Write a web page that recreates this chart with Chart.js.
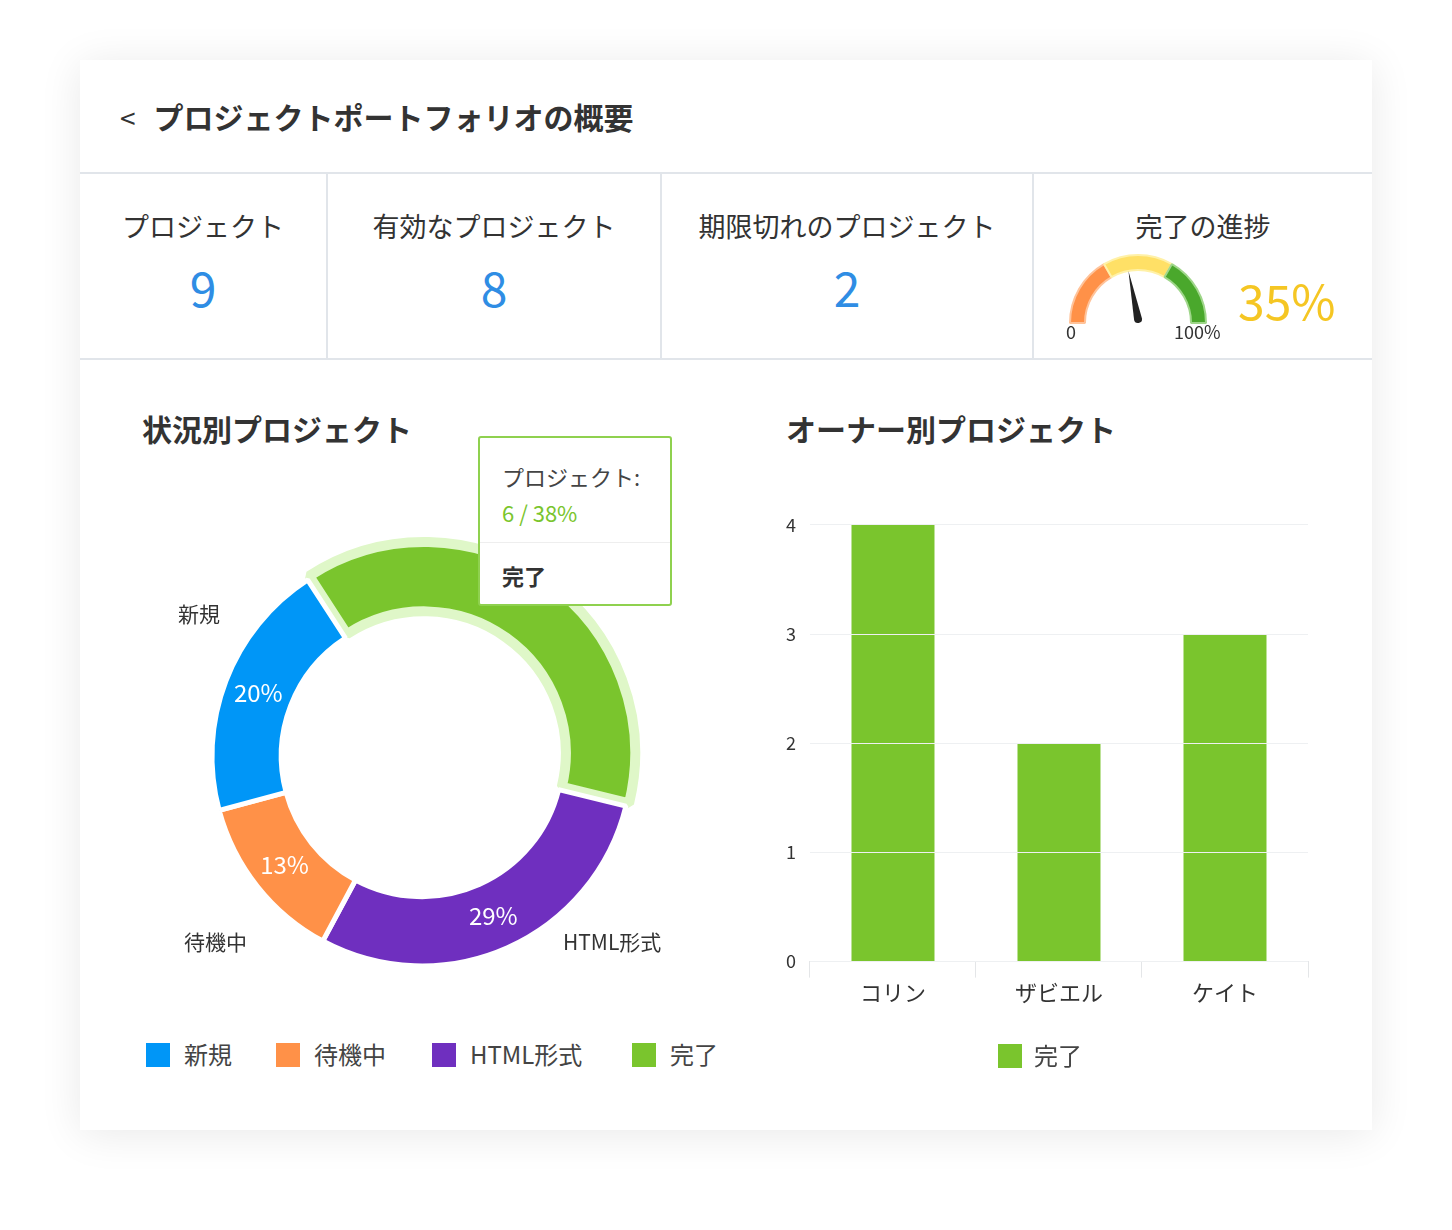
<!DOCTYPE html>
<html><head><meta charset="utf-8">
<script src="https://cdn.jsdelivr.net/npm/chart.js@4/dist/chart.umd.min.js"></script>
<style>
body{margin:0;background:#fff;font-family:"Noto Sans CJK JP","Noto Sans",sans-serif;color:#333}
.card{position:absolute;left:80px;top:60px;width:1292px;height:1070px;background:#fff;box-shadow:0 4px 40px rgba(0,0,0,.09)}
.hdr{height:112px;border-bottom:2px solid #e1e5ea;font-size:30px;font-weight:bold;line-height:112px;padding-left:40px}
.hdr span{font-weight:normal;margin-right:18px;font-size:28px}
.stats{position:absolute;top:114px;left:0;width:1292px;height:184px;border-bottom:2px solid #e1e5ea}
.st{position:absolute;top:0;height:184px;text-align:center;border-right:2px solid #e1e5ea}
.st .l{font-size:27px;margin-top:32px}
.st .n{font-size:48px;color:#2f8de4;margin-top:6px}
.sec{position:absolute;font-size:30px;font-weight:bold}
.tip{position:absolute;left:478px;top:436px;width:190px;height:166px;border:2px solid #8fd14f;background:#fff;border-radius:3px;font-size:22px}
.lab{position:absolute;font-size:21px}
.lg{position:absolute;top:1040px;font-size:24px;color:#444;line-height:28px}
.lg i{display:inline-block;width:24px;height:24px;vertical-align:-3px;margin-right:14px}
</style></head><body>
<div class="card">
 <div class="hdr"><span>&lt;</span>プロジェクトポートフォリオの概要</div>
 <div class="stats">
  <div class="st" style="left:0;width:246px"><div class="l">プロジェクト</div><div class="n">9</div></div>
  <div class="st" style="left:248px;width:332px"><div class="l">有効なプロジェクト</div><div class="n">8</div></div>
  <div class="st" style="left:582px;width:370px"><div class="l">期限切れのプロジェクト</div><div class="n">2</div></div>
  <div class="st" style="left:954px;width:338px;border:none"><div class="l">完了の進捗</div></div>
 </div>
 <div class="sec" style="left:62px;top:346px">状況別プロジェクト</div>
 <div class="sec" style="left:706px;top:346px">オーナー別プロジェクト</div>
</div>
<div style="position:absolute;left:1068px;top:254px;width:140px;height:70px"><canvas id="g"></canvas></div>
<div style="position:absolute;left:1066px;top:318px;font-size:18px">0</div>
<div style="position:absolute;left:1174px;top:318px;font-size:18px">100%</div>
<div style="position:absolute;left:1238px;top:264px;font-size:48px;color:#f5c623">35%</div>
<div style="position:absolute;left:200px;top:534px;width:444px;height:444px"><canvas id="d"></canvas></div>
<div class="lab" style="left:178px;top:598px">新規</div>
<div class="lab" style="left:184px;top:926px">待機中</div>
<div class="lab" style="left:563px;top:926px">HTML形式</div>
<div id="dleg"></div>
<div style="position:absolute;left:760px;top:500px;width:560px;height:578px"><canvas id="b"></canvas></div>
<div class="tip" style="position:absolute">
 <div style="padding:22px 0 0 22px;color:#444">プロジェクト:</div>
 <div style="padding:4px 0 0 22px;color:#7ac52d">6 / 38%</div>
 <div style="border-top:1px solid #eee;margin-top:14px;padding:16px 0 0 22px;font-weight:bold">完了</div>
</div>
<script>
const statusLabels = ["完了", "HTML形式", "待機中", "新規"];
const statusShares = [38, 29, 13, 20];
const statusColors = ["#7ac52d", "#6f2fbf", "#ff9148", "#0096f7"];
const legendX = [146, 276, 432, 632];
const owners = ["コリン", "ザビエル", "ケイト"];
const ownerDone = [4, 2, 3];
const gaugeParts = [1, 1, 1];
const progress = 35;

const FONT = "'Noto Sans CJK JP', 'Noto Sans', sans-serif";
Chart.defaults.font.family = FONT;
Chart.defaults.color = "#333";

// legend in 新規 → 完了 order
const leg = document.getElementById("dleg");
statusLabels.slice().reverse().forEach((l, i) => {
  const c = statusColors[statusLabels.length - 1 - i];
  leg.innerHTML += `<div class="lg" style="left:${legendX[i]}px"><i style="background:${c}"></i>${l}</div>`;
});

const sliceText = {
  id: "sliceText",
  afterDatasetsDraw(chart) {
    const ctx = chart.ctx;
    chart.getDatasetMeta(0).data.forEach((arc, i) => {
      if (i == 0) return;
      const mid = (arc.startAngle + arc.endAngle) / 2;
      const r = (arc.innerRadius + arc.outerRadius) / 2;
      ctx.save();
      ctx.font = "24px " + FONT;
      ctx.textAlign = "center"; ctx.textBaseline = "middle";
      ctx.fillStyle = "#fff";
      ctx.fillText(statusShares[i] + "%", arc.x + Math.cos(mid) * r, arc.y + Math.sin(mid) * r);
      ctx.restore();
    });
  }
};

new Chart(document.getElementById("d"), {
  type: "doughnut",
  data: { labels: statusLabels, datasets: [{
    data: statusShares, backgroundColor: statusColors,
    borderColor: ["#dff7c8", "#fff", "#fff", "#fff"], borderWidth: [10, 5, 5, 5],
    offset: [14, 0, 0, 0]
  }]},
  options: {
    responsive: true, maintainAspectRatio: false, animation: false,
    rotation: -33, cutout: "67%",
    plugins: { tooltip: { enabled: false }, legend: { display: false } }
  },
  plugins: [sliceText]
});

new Chart(document.getElementById("b"), {
  type: "bar",
  data: { labels: owners, datasets: [{ label: "完了", data: ownerDone, backgroundColor: "#7ac52d", categoryPercentage: 0.5, barPercentage: 1 }] },
  options: {
    responsive: true, maintainAspectRatio: false, animation: false,
    layout: { padding: { top: 8, right: 12, left: 12 } },
    scales: {
      y: { min: 0, max: 4, ticks: { stepSize: 1, font: { size: 18 }, padding: 14 }, grid: { color: "#eef0f2", z: 1, drawTicks: false }, border: { display: false } },
      x: { ticks: { font: { size: 22 }, color: "#333", padding: 2 }, grid: { color: "#e4e6e8", offset: true, tickLength: 16, drawOnChartArea: false }, border: { color: "#e4e6e8" } }
    },
    plugins: { tooltip: { enabled: false },
      legend: { position: "bottom", labels: { boxWidth: 24, boxHeight: 24, padding: 36, color: "#444", font: { size: 24 } } } }
  }
});

const needle = {
  id: "needle",
  afterDatasetsDraw(chart) {
    const arc = chart.getDatasetMeta(0).data[0];
    const a = Math.PI + Math.PI * progress / 100 * 1.25;
    const ctx = chart.ctx, L = arc.outerRadius * 0.72;
    ctx.save();
    ctx.translate(arc.x, arc.y - 4); ctx.rotate(a);
    ctx.fillStyle = "#222";
    ctx.beginPath(); ctx.moveTo(0, -4); ctx.lineTo(L, 0); ctx.lineTo(0, 4); ctx.arc(0, 0, 4, Math.PI / 2, Math.PI * 1.5); ctx.fill();
    ctx.restore();
  }
};
new Chart(document.getElementById("g"), {
  type: "doughnut",
  data: { datasets: [{ data: gaugeParts, backgroundColor: ["#ff9148", "#ffe066", "#4aa82c"], borderColor: ["#ffc39a", "#fff1a8", "#9fd68a"], borderWidth: 2 }] },
  options: { responsive: true, maintainAspectRatio: false, animation: false, rotation: -90, circumference: 180, cutout: "78%",
    plugins: { legend: { display: false }, tooltip: { enabled: false } } },
  plugins: [needle]
});
</script>
</body></html>
